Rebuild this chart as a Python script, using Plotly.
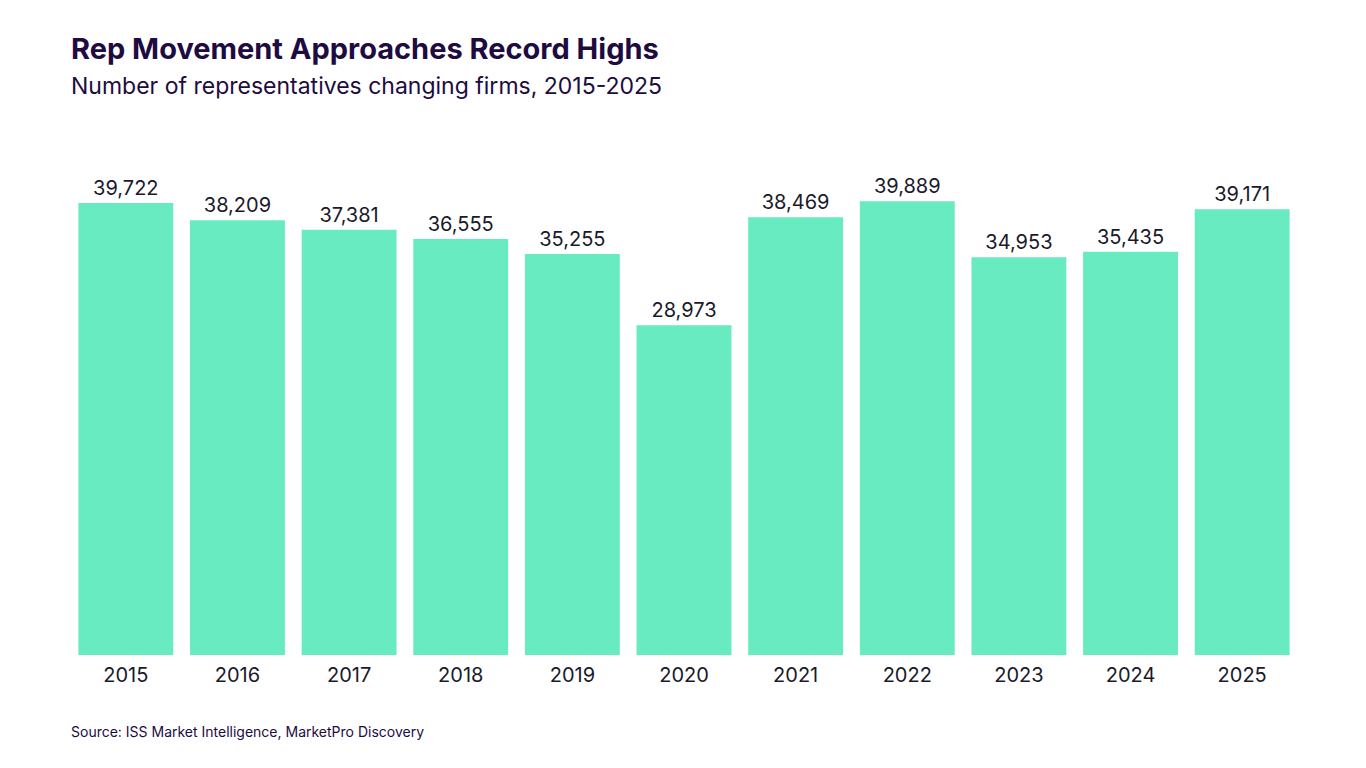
import plotly.graph_objects as go

# ── Data ────────────────────────────────────────────────────────
years = ["2015", "2016", "2017", "2018", "2019", "2020",
         "2021", "2022", "2023", "2024", "2025"]
reps_moved = [39722, 38209, 37381, 36555, 35255, 28973,
              38469, 39889, 34953, 35435, 39171]
bar_labels = [f"{v:,}" for v in reps_moved]

BAR_COLOR = "#69EBC2"
TITLE_COLOR = "#1E0B3F"
FONT = "Inter, Noto Sans, sans-serif"

# page is offset by the body margin (~8px), so everything is nudged back
W, H = 1366, 768
ML, MR, MT, MB = 62, 76, 135, 121

fig = go.Figure()
fig.add_trace(go.Bar(
    x=years, y=reps_moved,
    text=bar_labels, textposition="outside",
    textfont=dict(size=20, color="#1a1a2a", family=FONT),
    marker=dict(color=BAR_COLOR, line=dict(width=0)),
    cliponaxis=False,
    hoverinfo="skip",
))

fig.update_layout(
    width=W, height=H,
    margin=dict(l=ML, r=MR, t=MT, b=MB),
    paper_bgcolor="white", plot_bgcolor="white",
    bargap=0.15,
    showlegend=False,
    font=dict(family=FONT, color="#1a1a2a"),
    xaxis=dict(
        showgrid=False, zeroline=False, showline=False,
        ticks="", ticklabelstandoff=6,
        tickfont=dict(size=20, color="#1a1a2a"),
    ),
    yaxis=dict(range=[0, 45000], visible=False),
)

pw, ph = W - ML - MR, H - MT - MB


def px_to_paper(x, y):
    # target-picture pixel -> paper coords (with the 8px page offset)
    return (x - 8 - ML) / pw, (H - MB - (y - 8)) / ph


tx, ty = px_to_paper(69, 48)
fig.add_annotation(text="<b>Rep Movement Approaches Record Highs</b>",
                   x=tx, y=ty, xref="paper", yref="paper",
                   xanchor="left", yanchor="middle", showarrow=False,
                   font=dict(size=29, color=TITLE_COLOR, family=FONT))
sx, sy = px_to_paper(69, 86)
fig.add_annotation(text="Number of representatives changing firms, 2015-2025",
                   x=sx, y=sy, xref="paper", yref="paper",
                   xanchor="left", yanchor="middle", showarrow=False,
                   font=dict(size=23, color=TITLE_COLOR, family=FONT))
cx, cy = px_to_paper(69, 731)
fig.add_annotation(text="Source: ISS Market Intelligence, MarketPro Discovery",
                   x=cx, y=cy, xref="paper", yref="paper",
                   xanchor="left", yanchor="middle", showarrow=False,
                   font=dict(size=14, color=TITLE_COLOR, family=FONT))

fig.write_html("out.html")
